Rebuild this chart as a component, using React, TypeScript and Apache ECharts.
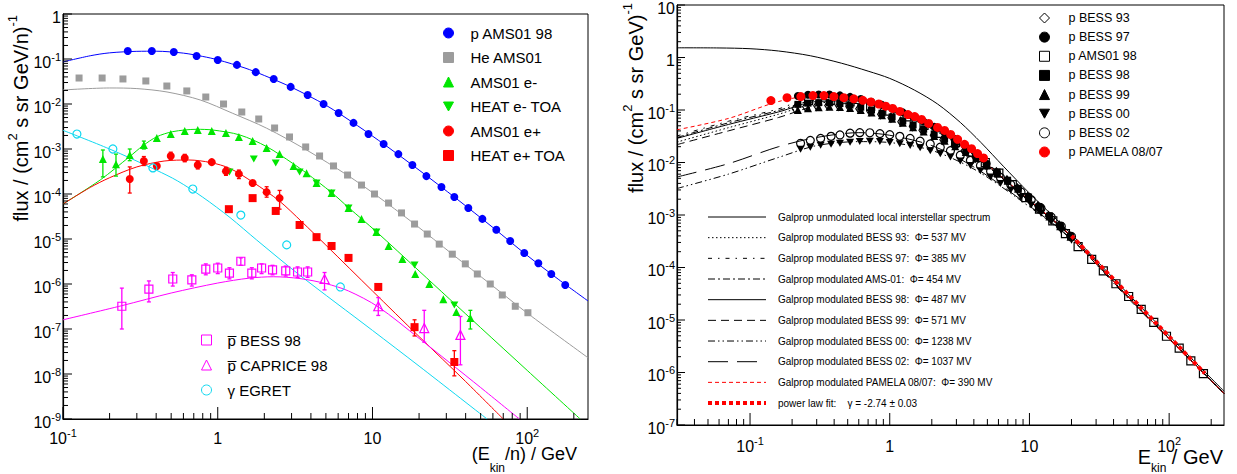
import React, { useEffect, useRef } from "react";
import * as echarts from "echarts";

type Pt = [number, number];
type Err = [number, number, number];

const F = "'Liberation Sans', Arial, Helvetica, sans-serif";

// ================= LEFT PANEL DATA (E_kin/n in GeV, flux) =================
const pAms01: Pt[] = [
  [0.262, 0.151], [0.375, 0.151], [0.52, 0.143], [0.73, 0.117], [1.0, 0.095], [1.33, 0.074],
  [1.76, 0.051], [2.3, 0.036], [2.96, 0.024], [3.81, 0.0158], [4.83, 0.01], [6.04, 0.0063],
  [7.54, 0.0038], [9.42, 0.00215], [11.8, 0.00129], [14.7, 7.7e-4], [18.1, 4.4e-4], [22.3, 2.5e-4],
  [27.9, 1.43e-4], [33.8, 8.6e-5], [41.6, 4.9e-5], [51.3, 2.8e-5], [63.1, 1.6e-5], [77.6, 9.0e-6],
  [95.7, 4.9e-6], [118, 2.9e-6], [143, 1.67e-6], [176, 9.5e-7],
];
const pAms01Fit: Pt[] = [
  [0.1, 0.086], [0.15, 0.118], [0.2, 0.137], [0.3, 0.148], [0.4, 0.149], [0.6, 0.135], [0.8, 0.114],
  [1.0, 0.096], [1.5, 0.063], [2.0, 0.043], [3.0, 0.0235], [5.0, 0.0094], [8.0, 0.0033], [12, 0.00124],
  [20, 3.4e-4], [35, 7.8e-5], [60, 1.8e-5], [100, 4.3e-6], [160, 1.25e-6], [247, 4.2e-7],
];
const heAms01: Pt[] = [
  [0.127, 0.0378], [0.179, 0.0378], [0.244, 0.036], [0.343, 0.0325], [0.469, 0.0251], [0.631, 0.0195],
  [0.837, 0.0143], [1.09, 0.01], [1.43, 0.00664], [1.84, 0.00464], [2.33, 0.00293], [2.91, 0.00185],
  [3.7, 0.00111], [4.55, 7.0e-4], [5.6, 4.2e-4], [6.9, 2.64e-4], [8.49, 1.58e-4], [10.3, 1.0e-4],
  [12.7, 6.3e-5], [15.4, 3.8e-5], [18.7, 2.15e-5], [22.6, 1.29e-5], [27.0, 7.7e-6], [32.8, 4.6e-6],
  [39.8, 2.8e-6], [47.6, 1.67e-6], [57.7, 1.0e-6], [69.0, 5.7e-7], [83.7, 3.2e-7], [101, 2.3e-7],
];
const heFit: Pt[] = [
  [0.1, 0.0205], [0.2, 0.0227], [0.3, 0.022], [0.47, 0.0185], [0.77, 0.0123], [1.25, 0.0062],
  [2.07, 0.0029], [3.75, 9.5e-4], [6.9, 2.6e-4], [10.3, 1.0e-4], [18.7, 2.15e-5], [32.8, 4.6e-6],
  [57.7, 1.0e-6], [101, 2.2e-7], [247, 2.3e-8],
];
const eMinusAms01: Pt[] = [
  [0.181, 6.0e-4], [0.22, 4.6e-4], [0.27, 7.4e-4], [0.333, 1.23e-3], [0.404, 1.75e-3], [0.497, 2.15e-3],
  [0.612, 2.5e-3], [0.743, 2.64e-3], [0.915, 2.5e-3], [1.13, 2.27e-3], [1.37, 1.85e-3], [1.68, 1.5e-3],
  [2.07, 1.05e-3], [2.51, 7.7e-4], [3.09, 4.2e-4], [3.75, 2.9e-4], [4.35, 1.75e-4], [5.44, 1.05e-4],
  [7.0, 4.9e-5], [8.49, 2.8e-5], [10.6, 1.43e-5], [12.7, 7.0e-6], [15.6, 3.6e-6], [18.9, 1.67e-6],
  [23.3, 1.0e-6], [28.7, 4.6e-7], [34.8, 2.4e-7], [42.9, 1.75e-7],
];
const eMinusAms01Err: Err[] = [
  [0.181, 2.4e-4, 9.5e-4], [0.22, 2.5e-4, 7.7e-4], [0.27, 5.5e-4, 1.0e-3], [0.333, 1.0e-3, 1.5e-3],
  [42.9, 1.0e-7, 2.6e-7],
];
const eMinusHeat: Pt[] = [
  [1.19, 3.1e-4], [1.71, 6.0e-4], [2.37, 4.9e-4], [3.38, 3.1e-4], [4.35, 1.75e-4], [5.44, 1.05e-4],
  [7.0, 4.9e-5], [10.6, 1.43e-5], [18.7, 2.64e-6], [33.8, 3.4e-7],
];
const eMinusFit: Pt[] = [
  [0.1, 6.0e-5], [0.174, 2.05e-4], [0.27, 6.8e-4], [0.328, 1.18e-3], [0.404, 1.87e-3], [0.512, 2.43e-3],
  [0.73, 2.74e-3], [0.93, 2.64e-3], [1.39, 2.05e-3], [2.07, 1.13e-3], [3.05, 4.8e-4], [3.75, 2.9e-4],
  [5.44, 1.08e-4], [7.0, 5.0e-5], [10.6, 1.45e-5], [20, 1.95e-6], [50, 1.07e-7], [100, 1.2e-8], [220, 1.0e-9],
];
const ePlusAms01: Pt[] = [
  [0.27, 2.15e-4], [0.333, 5.4e-4], [0.404, 4.2e-4], [0.497, 7.0e-4], [0.612, 6.3e-4], [0.743, 4.4e-4],
  [0.915, 5.1e-4], [1.13, 3.2e-4], [1.37, 2.8e-4], [1.68, 1.75e-4], [2.07, 1.1e-4], [2.51, 8.1e-5],
];
const ePlusAms01Err: Err[] = [
  [0.27, 1.05e-4, 4.0e-4], [0.333, 4.3e-4, 6.8e-4], [0.497, 5.8e-4, 8.5e-4], [0.612, 5.2e-4, 7.6e-4],
  [0.743, 3.6e-4, 5.3e-4], [1.13, 2.6e-4, 3.9e-4], [1.37, 2.2e-4, 3.4e-4], [2.07, 8.5e-5, 1.45e-4],
  [2.51, 4.6e-5, 1.2e-4],
];
const ePlusHeat: Pt[] = [
  [1.18, 4.6e-5], [1.68, 8.1e-5], [2.37, 4.2e-5], [3.38, 2.05e-5], [4.35, 1.1e-5], [5.44, 7.0e-6],
  [7.0, 3.8e-6], [10.9, 8.6e-7], [18.7, 1.1e-7], [33.8, 1.85e-8],
];
const ePlusHeatErr: Err[] = [[18.7, 7.0e-8, 1.6e-7], [33.8, 9.1e-9, 3.3e-8]];
const ePlusFit: Pt[] = [
  [0.1, 6.0e-5], [0.15, 1.4e-4], [0.2, 2.3e-4], [0.3, 4.0e-4], [0.45, 5.4e-4], [0.65, 5.7e-4],
  [0.9, 5.0e-4], [1.2, 3.7e-4], [1.7, 1.8e-4], [2.5, 7.0e-5], [3.5, 2.4e-5], [5.0, 7.3e-6],
  [10, 7.0e-7], [20, 6.8e-8], [40, 6.8e-9], [70, 1.0e-9],
];
const gammaEgret: Pt[] = [
  [0.123, 2.15e-3], [0.21, 1.0e-3], [0.381, 3.8e-4], [0.69, 1.29e-4], [1.41, 3.4e-5], [2.79, 7.4e-6], [6.2, 8.6e-7],
];
const gammaFit: Pt[] = [
  [0.1, 2.6e-3], [0.2, 1.0e-3], [0.4, 3.4e-4], [0.55, 1.95e-4], [0.8, 8.5e-5], [1.2, 3.0e-5],
  [1.785, 9.5e-6], [3.38, 1.58e-6], [10, 9.3e-8], [20, 1.5e-8], [55, 1.0e-9],
];
const pbarBess98: Pt[] = [
  [0.24, 3.2e-7], [0.359, 7.7e-7], [0.512, 1.29e-6], [0.68, 1.23e-6], [0.837, 2.15e-6], [1.0, 2.27e-6],
  [1.19, 1.75e-6], [1.41, 3.2e-6], [1.66, 1.75e-6], [1.92, 2.27e-6], [2.26, 2.05e-6], [2.75, 1.95e-6],
  [3.28, 1.85e-6], [3.81, 1.85e-6],
];
const pbarBess98Err: Err[] = [
  [0.24, 1.0e-7, 8.1e-7], [0.359, 4.0e-7, 1.17e-6], [0.512, 9.0e-7, 1.8e-6], [0.68, 9.0e-7, 1.6e-6],
  [0.837, 1.6e-6, 2.8e-6], [1.0, 1.7e-6, 2.9e-6], [1.19, 1.3e-6, 2.3e-6], [1.41, 2.6e-6, 3.8e-6],
  [1.66, 1.3e-6, 2.3e-6], [1.92, 1.7e-6, 2.8e-6], [2.26, 1.6e-6, 2.6e-6], [2.75, 1.5e-6, 2.5e-6],
  [3.28, 1.4e-6, 2.4e-6], [3.81, 1.4e-6, 2.4e-6],
];
const pbarCaprice98: Pt[] = [[4.9, 1.29e-6], [10.9, 3.2e-7], [21.6, 1.05e-7], [37, 7.4e-8]];
const pbarCaprice98Err: Err[] = [
  [4.9, 7.4e-7, 1.8e-6], [10.9, 2.0e-7, 5.0e-7], [21.6, 5.1e-8, 2.6e-7], [37, 1.6e-8, 1.9e-7],
];
const pbarFit: Pt[] = [
  [0.1, 1.6e-7], [0.24, 3.3e-7], [0.5, 6.3e-7], [1.0, 1.05e-6], [1.6, 1.35e-6], [2.3, 1.45e-6],
  [3.4, 1.32e-6], [5.0, 1.02e-6], [7.0, 7.0e-7], [10.9, 3.1e-7], [20, 6.2e-8], [50, 5.0e-9], [89, 1.0e-9],
];

// ================= RIGHT PANEL DATA (E_kin in GeV, flux) =================
const bessE = [0.22, 0.26, 0.31, 0.37, 0.44, 0.52, 0.62, 0.74, 0.88, 1.04, 1.24, 1.47, 1.75, 2.08, 2.47, 2.94, 3.5, 4.15, 4.94, 5.87, 6.98, 8.3, 9.86, 11.7, 13.9, 16.6, 19.7];
const bess97Flux = [0.185, 0.195, 0.198, 0.197, 0.19, 0.178, 0.162, 0.143, 0.125, 0.107, 0.09, 0.074, 0.06, 0.048, 0.038, 0.028, 0.02, 0.0138, 0.0095, 0.0064, 0.0045, 0.0032, 0.0022, 0.00145, 0.00095, 0.00062, 0.00039];
const bess98Flux = [0.128, 0.135, 0.138, 0.137, 0.133, 0.125, 0.113, 0.1, 0.087, 0.074, 0.062, 0.052, 0.043, 0.035, 0.028, 0.022, 0.0168, 0.0126, 0.0092, 0.0066, 0.0046, 0.0032, 0.0022, 0.00145, 0.00096, 0.00062, 0.00039];
const bess99Flux = [0.1, 0.108, 0.113, 0.115, 0.114, 0.109, 0.1, 0.09, 0.079, 0.068, 0.057, 0.047, 0.039, 0.032, 0.026, 0.0205, 0.0158, 0.012, 0.0088, 0.0063, 0.0045, 0.00315, 0.00215, 0.00143, 0.00094, 0.00061, 0.000385];
const bess93E = [0.21, 0.25, 0.3, 0.36, 0.43, 0.51, 0.6, 0.72, 0.86, 1.02, 1.2, 1.45, 1.7, 2.05, 2.4, 2.9, 3.4, 4.1, 4.9, 5.8, 6.9, 8.2, 9.7, 11.5, 13.7, 16.3, 19.4];
const bess93Flux = [0.107, 0.115, 0.12, 0.122, 0.12, 0.115, 0.106, 0.095, 0.083, 0.071, 0.06, 0.049, 0.041, 0.033, 0.027, 0.021, 0.0165, 0.0124, 0.009, 0.0065, 0.0046, 0.0032, 0.0022, 0.00147, 0.00096, 0.00063, 0.0004];
const solarMaxE = [0.23, 0.27, 0.32, 0.38, 0.44, 0.52, 0.61, 0.72, 0.85, 1.0, 1.18, 1.4, 1.65, 1.95, 2.3, 2.72, 3.2, 3.78, 4.46, 5.27, 6.2, 7.35, 8.7, 10.3, 12.1, 14.3, 16.9, 20];
const bess02Flux = [0.0232, 0.0264, 0.0288, 0.0315, 0.0335, 0.0362, 0.037, 0.0368, 0.0355, 0.0338, 0.0315, 0.0287, 0.0255, 0.0225, 0.0196, 0.0168, 0.0138, 0.011, 0.0088, 0.0068, 0.0052, 0.0038, 0.00275, 0.00195, 0.00135, 0.00092, 0.00061, 0.00039];
const bess00Flux = [0.0178, 0.0195, 0.0212, 0.0222, 0.0232, 0.0242, 0.0252, 0.0253, 0.025, 0.024, 0.0228, 0.021, 0.019, 0.0168, 0.0147, 0.0127, 0.0107, 0.0088, 0.007, 0.0053, 0.004, 0.003, 0.0022, 0.00155, 0.00108, 0.00074, 0.0005, 0.00033];
const pamelaE = [0.141, 0.184, 0.231, 0.282, 0.338, 0.398, 0.469, 0.553, 0.641, 0.732, 0.835, 0.936, 1.05, 1.18, 1.35, 1.51, 1.69, 1.9, 2.2, 2.47, 2.73, 3.06, 3.43, 3.85, 4.25, 4.69];
const pamelaFlux = [0.151, 0.172, 0.18, 0.188, 0.188, 0.18, 0.172, 0.163, 0.153, 0.142, 0.13, 0.118, 0.107, 0.094, 0.082, 0.075, 0.066, 0.0555, 0.0466, 0.0408, 0.0343, 0.0276, 0.0222, 0.0183, 0.0148, 0.0122];

const lisE = [0.03, 0.06, 0.1, 0.16, 0.27, 0.45, 0.7, 1.0, 1.5, 2.2, 3.2, 4.5, 6.5, 10, 20, 50, 100, 247];
const lisFlux = [1.53, 1.52, 1.47, 1.33, 1.08, 0.78, 0.55, 0.4, 0.24, 0.13, 0.058, 0.024, 0.0085, 0.0026, 0.00043, 3.3e-5, 5.0e-6, 4.4e-7];
const modE = [0.03, 0.07, 0.16, 0.3, 0.6, 1, 2, 4, 8, 20, 50, 100, 247];
const galBess93 = [0.0245, 0.046, 0.083, 0.135, 0.143, 0.104, 0.046, 0.0138, 0.003, 0.00038, 2.9e-5, 4.5e-6, 4.0e-7];
const galBess97 = [0.032, 0.061, 0.105, 0.18, 0.165, 0.12, 0.05, 0.0145, 0.0031, 0.00039, 2.9e-5, 4.5e-6, 4.0e-7];
const galAms01 = [0.03, 0.057, 0.098, 0.155, 0.16, 0.115, 0.049, 0.0143, 0.0031, 0.00039, 2.9e-5, 4.5e-6, 4.0e-7];
const galBess98 = [0.0288, 0.053, 0.092, 0.145, 0.15, 0.108, 0.047, 0.014, 0.00305, 0.00039, 2.9e-5, 4.5e-6, 4.0e-7];
const galBess99 = [0.0219, 0.04, 0.072, 0.12, 0.133, 0.098, 0.044, 0.0135, 0.003, 0.00038, 2.9e-5, 4.5e-6, 4.0e-7];
const galBess00 = [0.0032, 0.006, 0.0125, 0.021, 0.025, 0.024, 0.017, 0.0075, 0.0022, 0.00034, 2.7e-5, 4.3e-6, 3.9e-7];
const galBess02 = [0.0053, 0.0095, 0.02, 0.03, 0.037, 0.033, 0.021, 0.0082, 0.0023, 0.00035, 2.8e-5, 4.4e-6, 4.0e-7];
const galPamela = [0.042, 0.069, 0.145, 0.19, 0.16, 0.112, 0.052, 0.0147, 0.00315, 0.00039, 2.9e-5, 4.5e-6, 4.0e-7];
const powerFitE = [20, 180];
const powerFitFlux = [4.0e-4, 9.6e-7];

const lineLegendLabels = [
  "Galprop unmodulated local interstellar spectrum",
  "Galprop modulated BESS 93:  Φ= 537 MV",
  "Galprop modulated BESS 97:  Φ= 385 MV",
  "Galprop modulated AMS-01:  Φ= 454 MV",
  "Galprop modulated BESS 98:  Φ= 487 MV",
  "Galprop modulated BESS 99:  Φ= 571 MV",
  "Galprop modulated BESS 00:  Φ= 1238 MV",
  "Galprop modulated BESS 02:  Φ= 1037 MV",
  "Galprop modulated PAMELA 08/07:  Φ= 390 MV",
  "power law fit:    γ = -2.74 ± 0.03",
];

// ================= styling =================
const BLUE = "#0000ff";
const GRAY = "#9c9c9c";
const GREEN = "#00e600";
const RED = "#ff0000";
const MAGENTA = "#ff00ff";
const CYAN = "#10d8f0";
const CLEAR = "rgba(0,0,0,0)";
const DOWN = "path://M0,0L10,0L5,9Z";

const LS: Record<string, { color: string; width: number; type: any }> = {
  lis: { color: "#000", width: 1, type: "solid" },
  b93: { color: "#000", width: 1, type: [1.5, 2.5] },
  b97: { color: "#000", width: 1, type: [4, 6, 1.5, 6] },
  ams: { color: "#000", width: 1, type: [7, 3, 2, 3] },
  b98: { color: "#000", width: 1, type: "solid" },
  b99: { color: "#000", width: 1, type: [8, 5] },
  b00: { color: "#000", width: 1, type: [7, 3, 1.5, 3, 1.5, 3] },
  b02: { color: "#000", width: 1, type: [20, 9] },
  pam: { color: RED, width: 1, type: [4, 3] },
  fit: { color: RED, width: 4, type: [4, 3] },
};
const legendLineOrder = ["lis", "b93", "b97", "ams", "b98", "b99", "b00", "b02", "pam", "fit"];

const zip = (xs: number[], ys: number[]): Pt[] => xs.map((x, i) => [x, ys[i]]);

function logTicks(min: number, max: number) {
  const out: { v: number; major: boolean }[] = [];
  for (let d = Math.floor(Math.log10(min)); d <= Math.ceil(Math.log10(max)); d++) {
    for (let k = 1; k <= 9; k++) {
      const v = k * Math.pow(10, d);
      if (v >= min * 0.9999 && v <= max * 1.0001) out.push({ v, major: k === 1 });
    }
  }
  return out;
}

function powLabel(v: number) {
  const l = Math.log10(v);
  const e = Math.round(l);
  if (Math.abs(l - e) > 1e-6) return "";
  if (e === 0) return "{b|1}";
  if (e === 1) return "{b|10}";
  return `{b|10}{s|${e}}`;
}

const LABEL_RICH = {
  b: { fontSize: 16, fontFamily: F, color: "#000", lineHeight: 22 },
  s: { fontSize: 11, fontFamily: F, color: "#000", verticalAlign: "top" },
};

function xAxisDef(grid: number, min: number, max: number, margin: number) {
  return {
    type: "log", logBase: 10, gridIndex: grid, min, max,
    axisLine: { show: true, lineStyle: { color: "#000", width: 1.2 } },
    axisTick: { show: false }, minorTick: { show: false }, splitLine: { show: false },
    axisLabel: { formatter: powLabel, rich: LABEL_RICH, margin, color: "#000" },
  };
}
function yAxisDef(grid: number, min: number, max: number) {
  return {
    type: "log", logBase: 10, gridIndex: grid, min, max,
    axisLine: { show: true, lineStyle: { color: "#000", width: 1.2 } },
    axisTick: { show: false }, minorTick: { show: false }, splitLine: { show: false },
    axisLabel: { formatter: powLabel, rich: LABEL_RICH, margin: 2, padding: [6, 0, 0, 0], color: "#000" },
  };
}

function tickSeries(grid: number, axis: "x" | "y", min: number, max: number, fixed: number, majorLen: number, minorLen: number) {
  const ticks = logTicks(min, max);
  return {
    type: "custom", xAxisIndex: grid, yAxisIndex: grid, silent: true, z: 10,
    data: ticks.map((t) => (axis === "x" ? [t.v, fixed, t.major ? 1 : 0] : [fixed, t.v, t.major ? 1 : 0])),
    encode: { x: 0, y: 1 },
    renderItem: (_p: any, api: any) => {
      const p = api.coord([api.value(0), api.value(1)]);
      const len = api.value(2) ? majorLen : minorLen;
      const shape = axis === "x"
        ? { x1: p[0], y1: p[1], x2: p[0], y2: p[1] - len }
        : { x1: p[0], y1: p[1], x2: p[0] + len, y2: p[1] };
      return { type: "line", shape, style: { stroke: "#000", lineWidth: 1 } };
    },
  };
}

function errSeries(grid: number, data: Err[], color: string) {
  return {
    type: "custom", xAxisIndex: grid, yAxisIndex: grid, silent: true, z: 3,
    data, encode: { x: 0, y: [1, 2] },
    renderItem: (_p: any, api: any) => {
      const lo = api.coord([api.value(0), api.value(1)]);
      const hi = api.coord([api.value(0), api.value(2)]);
      const st = { stroke: color, lineWidth: 1.3 };
      return {
        type: "group",
        children: [
          { type: "line", shape: { x1: lo[0], y1: lo[1], x2: hi[0], y2: hi[1] }, style: st },
          { type: "line", shape: { x1: lo[0] - 2, y1: lo[1], x2: lo[0] + 2, y2: lo[1] }, style: st },
          { type: "line", shape: { x1: hi[0] - 2, y1: hi[1], x2: hi[0] + 2, y2: hi[1] }, style: st },
        ],
      };
    },
  };
}

function scat(name: string, grid: number, data: Pt[], symbol: string, size: any, color: string, open = false, z = 4) {
  return {
    type: "scatter", name, xAxisIndex: grid, yAxisIndex: grid, data, symbol, symbolSize: size, silent: true, z,
    itemStyle: open
      ? { color: CLEAR, borderColor: color, borderWidth: 1.2, opacity: 1 }
      : { color, borderColor: color, borderWidth: 0, opacity: 1 },
  };
}

function curve(grid: number, data: Pt[], ls: any, z = 2) {
  return {
    type: "line", xAxisIndex: grid, yAxisIndex: grid, data, symbol: "none", silent: true, z,
    smooth: 0.3,
    lineStyle: { color: ls.color, width: ls.width, type: ls.type, cap: "butt" },
  };
}

// legend has a default padding of 5 px, so positions are 5 px less than the icon box
function legendDef(left: number, top: number, names: string[], fontSize: number, lineHeight: number, gap: number, pad: number) {
  return {
    left: left - 5, top: top - 5, orient: "vertical", itemWidth: 10, itemHeight: 10, itemGap: gap, selectedMode: false,
    data: names, itemStyle: { borderWidth: 1 },
    textStyle: { fontSize, fontFamily: F, color: "#000", lineHeight, padding: [0, 0, 0, pad] },
  };
}

const TITLE_RICH = {
  b: { fontSize: 20, fontFamily: F, fill: "#000", lineHeight: 30 },
  s: { fontSize: 13, fontFamily: F, fill: "#000", verticalAlign: "top" },
};
const XL_RICH = {
  b: { fontSize: 18, fontFamily: F, fill: "#000", verticalAlign: "top" },
  u: { fontSize: 12, fontFamily: F, fill: "#000", verticalAlign: "top", padding: [17, 0, 0, 0] },
};
const XR_RICH = {
  b: { fontSize: 20, fontFamily: F, fill: "#000", verticalAlign: "top" },
  u: { fontSize: 12, fontFamily: F, fill: "#000", verticalAlign: "top", padding: [15, 0, 0, 0] },
};

function buildOption() {
  const lineLegendGraphics: any[] = [];
  legendLineOrder.forEach((key, i) => {
    const y = 217 + i * 20.67;
    const ls = LS[key];
    lineLegendGraphics.push({
      type: "line", shape: { x1: 708, y1: y, x2: 766, y2: y },
      style: { stroke: ls.color, lineWidth: ls.width, lineDash: ls.type === "solid" ? null : ls.type },
    });
    lineLegendGraphics.push({
      type: "text", x: 778, y,
      style: { text: lineLegendLabels[i], fontSize: 10, fontFamily: F, fill: "#000", verticalAlign: "middle", align: "left" },
    });
  });

  return {
    animation: false,
    backgroundColor: "#fff",
    grid: [
      { left: 63, top: 14, width: 525, height: 405, show: true, borderColor: "#000", borderWidth: 1 },
      { left: 677, top: 3, width: 547, height: 422, show: true, borderColor: "#000", borderWidth: 1 },
    ],
    xAxis: [xAxisDef(0, 0.1, 247, 8), xAxisDef(1, 0.03, 247, 10)],
    yAxis: [yAxisDef(0, 1e-9, 1), yAxisDef(1, 1e-7, 10)],
    legend: [
      legendDef(443, 25, ["p AMS01 98", "He AMS01", "AMS01 e-", "HEAT e- TOA", "AMS01 e+", "HEAT e+ TOA"], 15, 16, 8.5, 12),
      legendDef(201, 332, ["p\u0305 BESS 98", "p\u0305 CAPRICE 98", "γ EGRET"], 15, 16, 9, 11),
      legendDef(1039, 11, ["p BESS 93", "p BESS 97", "p AMS01 98 ", "p BESS 98", "p BESS 99", "p BESS 00", "p BESS 02", "p PAMELA 08/07"], 12.5, 14, 5.14, 14),
    ],
    graphic: [
      { type: "text", x: 21, y: 15, rotation: Math.PI / 2, style: { text: "{b|flux / (cm}{s|2}{b| s sr GeV/n)}{s|-1}", rich: TITLE_RICH, fill: "#000", align: "right", verticalAlign: "middle" } },
      { type: "text", x: 636, y: 3, rotation: Math.PI / 2, style: { text: "{b|flux / (cm}{s|2}{b| s sr GeV)}{s|-1}", rich: TITLE_RICH, fill: "#000", align: "right", verticalAlign: "middle" } },
      { type: "text", x: 577, y: 445, style: { text: "{b|(E}{u|kin}{b|/n) / GeV}", rich: XL_RICH, fill: "#000", align: "right", verticalAlign: "top" } },
      { type: "text", x: 1223, y: 447, style: { text: "{b|E}{u|kin}{b| / GeV}", rich: XR_RICH, fill: "#000", align: "right", verticalAlign: "top" } },
      ...lineLegendGraphics,
    ],
    series: [
      // ---- left panel curves ----
      curve(0, pAms01Fit, { color: BLUE, width: 1, type: "solid" }),
      curve(0, heFit, { color: GRAY, width: 1, type: "solid" }),
      curve(0, eMinusFit, { color: GREEN, width: 1, type: "solid" }),
      curve(0, ePlusFit, { color: RED, width: 1, type: "solid" }),
      curve(0, gammaFit, { color: CYAN, width: 1, type: "solid" }),
      curve(0, pbarFit, { color: MAGENTA, width: 1, type: "solid" }),
      // ---- left panel error bars ----
      errSeries(0, eMinusAms01Err, GREEN),
      errSeries(0, ePlusAms01Err, RED),
      errSeries(0, ePlusHeatErr, RED),
      errSeries(0, pbarBess98Err, MAGENTA),
      errSeries(0, pbarCaprice98Err, MAGENTA),
      // ---- left panel data ----
      scat("p AMS01 98", 0, pAms01, "circle", 8, BLUE),
      scat("He AMS01", 0, heAms01, "rect", 7, GRAY),
      scat("AMS01 e-", 0, eMinusAms01, "triangle", 8, GREEN),
      scat("HEAT e- TOA", 0, eMinusHeat, DOWN, [8, 7], GREEN),
      scat("AMS01 e+", 0, ePlusAms01, "circle", 8, RED),
      scat("HEAT e+ TOA", 0, ePlusHeat, "rect", 8, RED),
      scat("p\u0305 BESS 98", 0, pbarBess98, "rect", 8, MAGENTA, true),
      scat("p\u0305 CAPRICE 98", 0, pbarCaprice98, "triangle", 9, MAGENTA, true),
      scat("γ EGRET", 0, gammaEgret, "circle", 8, CYAN, true),
      // ---- right panel curves ----
      curve(1, zip(modE, galBess93), LS.b93),
      curve(1, zip(modE, galBess97), LS.b97),
      curve(1, zip(modE, galAms01), LS.ams),
      curve(1, zip(modE, galBess98), LS.b98),
      curve(1, zip(modE, galBess99), LS.b99),
      curve(1, zip(modE, galBess00), LS.b00),
      curve(1, zip(modE, galBess02), LS.b02),
      curve(1, zip(modE, galPamela), LS.pam),
      // ---- right panel data ----
      scat("p BESS 93", 1, zip(bess93E, bess93Flux), "diamond", [6, 9], "#000", true, 3),
      scat("p BESS 97", 1, zip(bessE, bess97Flux), "circle", 8, "#000", false, 3),
      scat("p AMS01 98 ", 1, pAms01, "rect", 8, "#000", true, 3),
      scat("p BESS 98", 1, zip(bessE, bess98Flux), "rect", 7, "#000", false, 3),
      scat("p BESS 99", 1, zip(bessE, bess99Flux), "triangle", 8, "#000", false, 3),
      scat("p BESS 00", 1, zip(solarMaxE, bess00Flux), DOWN, [8, 7], "#000", false, 3),
      scat("p BESS 02", 1, zip(solarMaxE, bess02Flux), "circle", 8, "#000", true, 3),
      scat("p PAMELA 08/07", 1, zip(pamelaE, pamelaFlux), "circle", 9, RED, false, 4),
      curve(1, zip(lisE, lisFlux), LS.lis, 5),
      curve(1, zip(powerFitE, powerFitFlux), LS.fit, 6),
      // ---- axis ticks ----
      tickSeries(0, "x", 0.1, 247, 1e-9, 12, 6),
      tickSeries(0, "y", 1e-9, 1, 0.1, 9, 5),
      tickSeries(1, "x", 0.03, 247, 1e-7, 12, 6),
      tickSeries(1, "y", 1e-7, 10, 0.03, 8, 4),
    ],
  };
}

export default function App() {
  const ref = useRef<HTMLDivElement>(null);
  useEffect(() => {
    if (!ref.current) return;
    const chart = echarts.init(ref.current, null, { renderer: "svg" });
    chart.setOption(buildOption() as any);
    return () => chart.dispose();
  }, []);
  return <div ref={ref} style={{ position: "fixed", left: 0, top: 0, width: 1237, height: 474, background: "#fff" }} />;
}
